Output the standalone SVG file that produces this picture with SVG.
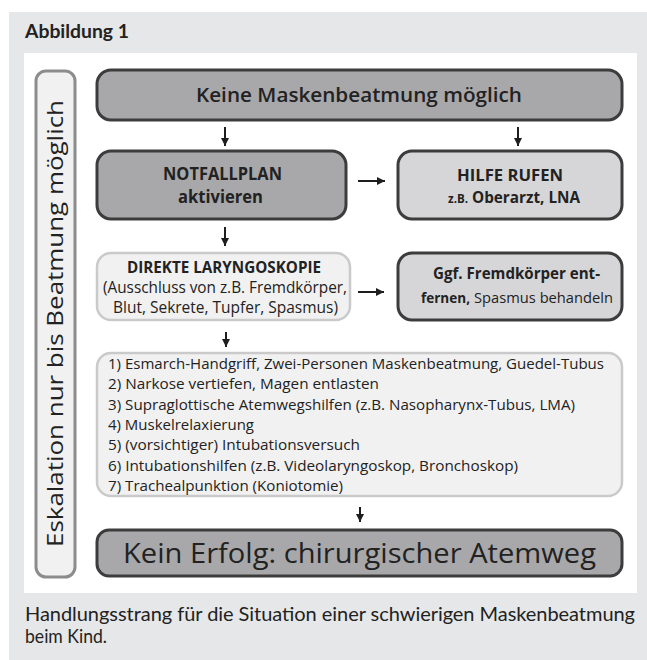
<svg xmlns="http://www.w3.org/2000/svg" width="647" height="660" viewBox="0 0 647 660">
<defs>
<marker id="ah" viewBox="0 0 10 10" refX="10" refY="5" markerWidth="4" markerHeight="4" orient="auto" markerUnits="strokeWidth">
<path d="M0,0 L10,5 L0,10 z" fill="#1e1e1e"/>
</marker>
<style>
.t{font-family:"Open Sans","DejaVu Sans",sans-serif;fill:#222;}
.b{font-weight:700;}
.dark{fill:#a8a8aa;stroke:#3c3c3c;stroke-width:3;}
.mid{fill:#d6d6d8;stroke:#3c3c3c;stroke-width:3;}
.light{fill:#f1f1f1;stroke:#cacaca;stroke-width:2.5;}
.cap{font-family:"Lato","Open Sans",sans-serif;fill:#222;}
.arr{stroke:#1e1e1e;stroke-width:2;fill:none;marker-end:url(#ah);}
</style>
</defs>
<rect x="9" y="12" width="638" height="648" fill="#e6e7e8"/>
<rect x="24" y="53" width="613" height="540" fill="#ffffff"/>
<text class="cap b" x="25" y="38" font-size="19" textLength="104" lengthAdjust="spacingAndGlyphs">Abbildung 1</text>

<g id="vertical">
<rect x="36" y="71" width="39" height="506" rx="10" fill="#f1f1f1" stroke="#8c8c8c" stroke-width="3"/>
<text class="t" transform="translate(63,547) rotate(-90)" font-size="22" textLength="447" lengthAdjust="spacingAndGlyphs">Eskalation nur bis Beatmung möglich</text>
</g>

<g id="keine">
<rect class="dark" x="97" y="70" width="525" height="50" rx="14"/>
<text class="t" x="196" y="102" font-size="19" font-weight="600" textLength="326" lengthAdjust="spacingAndGlyphs">Keine Maskenbeatmung möglich</text>
</g>

<g id="notfallplan">
<rect class="dark" x="97" y="151" width="249" height="68" rx="14"/>
<text class="t b" x="163" y="180" font-size="17" textLength="119" lengthAdjust="spacingAndGlyphs">NOTFALLPLAN</text>
<text class="t b" x="178" y="203" font-size="17" textLength="85" lengthAdjust="spacingAndGlyphs">aktivieren</text>
</g>

<g id="hilfe">
<rect class="mid" x="398" y="151" width="224" height="68" rx="14"/>
<text class="t b" x="457" y="181" font-size="16" textLength="106" lengthAdjust="spacingAndGlyphs">HILFE RUFEN</text>
<text class="t b" x="448" y="203" font-size="12" textLength="20" lengthAdjust="spacingAndGlyphs">z.B.</text>
<text class="t b" x="472" y="203" font-size="15.5" textLength="108" lengthAdjust="spacingAndGlyphs">Oberarzt, LNA</text>
</g>

<g id="laryngoskopie">
<rect class="light" x="97" y="253" width="253" height="67" rx="14"/>
<text class="t b" x="127" y="273" font-size="16" textLength="194" lengthAdjust="spacingAndGlyphs">DIREKTE LARYNGOSKOPIE</text>
<text class="t" x="103" y="293" font-size="16" textLength="244" lengthAdjust="spacingAndGlyphs">(Ausschluss von z.B. Fremdkörper,</text>
<text class="t" x="113" y="313" font-size="16" textLength="225" lengthAdjust="spacingAndGlyphs">Blut, Sekrete, Tupfer, Spasmus)</text>
</g>

<g id="fremdkoerper">
<rect class="mid" x="398" y="253" width="224" height="67" rx="14"/>
<text class="t b" x="433" y="279" font-size="16" textLength="167" lengthAdjust="spacingAndGlyphs">Ggf. Fremdkörper ent-</text>
<text class="t b" x="421" y="303" font-size="14.5" textLength="49" lengthAdjust="spacingAndGlyphs">fernen,</text>
<text class="t" x="474" y="303" font-size="15" textLength="139" lengthAdjust="spacingAndGlyphs">Spasmus behandeln</text>
</g>

<g id="liste">
<rect class="light" x="97" y="353" width="525" height="143" rx="14"/>
<text class="t" x="108" y="369" font-size="14" textLength="496" lengthAdjust="spacingAndGlyphs">1) Esmarch-Handgriff, Zwei-Personen Maskenbeatmung, Guedel-Tubus</text>
<text class="t" x="108" y="389.3" font-size="14" textLength="271" lengthAdjust="spacingAndGlyphs">2) Narkose vertiefen, Magen entlasten</text>
<text class="t" x="108" y="409.6" font-size="14" textLength="467" lengthAdjust="spacingAndGlyphs">3) Supraglottische Atemwegshilfen (z.B. Nasopharynx-Tubus, LMA)</text>
<text class="t" x="108" y="429.9" font-size="14" textLength="146" lengthAdjust="spacingAndGlyphs">4) Muskelrelaxierung</text>
<text class="t" x="108" y="450.2" font-size="14" textLength="252" lengthAdjust="spacingAndGlyphs">5) (vorsichtiger) Intubationsversuch</text>
<text class="t" x="108" y="470.5" font-size="14" textLength="410" lengthAdjust="spacingAndGlyphs">6) Intubationshilfen (z.B. Videolaryngoskop, Bronchoskop)</text>
<text class="t" x="108" y="490.8" font-size="14" textLength="235" lengthAdjust="spacingAndGlyphs">7) Trachealpunktion (Koniotomie)</text>
</g>

<g id="chirurgisch">
<rect class="dark" x="97" y="530" width="525" height="46" rx="12"/>
<text class="t" x="123" y="563" font-size="27" textLength="473" lengthAdjust="spacingAndGlyphs">Kein Erfolg: chirurgischer Atemweg</text>
</g>

<g id="connectors">
<line class="arr" x1="225" y1="127" x2="225" y2="146"/>
<line class="arr" x1="518" y1="127" x2="518" y2="146"/>
<line class="arr" x1="358" y1="181" x2="385" y2="181"/>
<line class="arr" x1="225" y1="227" x2="225" y2="246"/>
<line class="arr" x1="358" y1="292" x2="384" y2="292"/>
<line class="arr" x1="226" y1="332" x2="226" y2="347"/>
<line class="arr" x1="360" y1="507" x2="360" y2="522"/>
</g>

<text class="cap" x="25" y="621" font-size="20" textLength="610" lengthAdjust="spacing">Handlungsstrang für die Situation einer schwierigen Maskenbeatmung</text>
<text class="cap" x="25" y="643" font-size="20" textLength="82" lengthAdjust="spacingAndGlyphs">beim Kind.</text>
</svg>
